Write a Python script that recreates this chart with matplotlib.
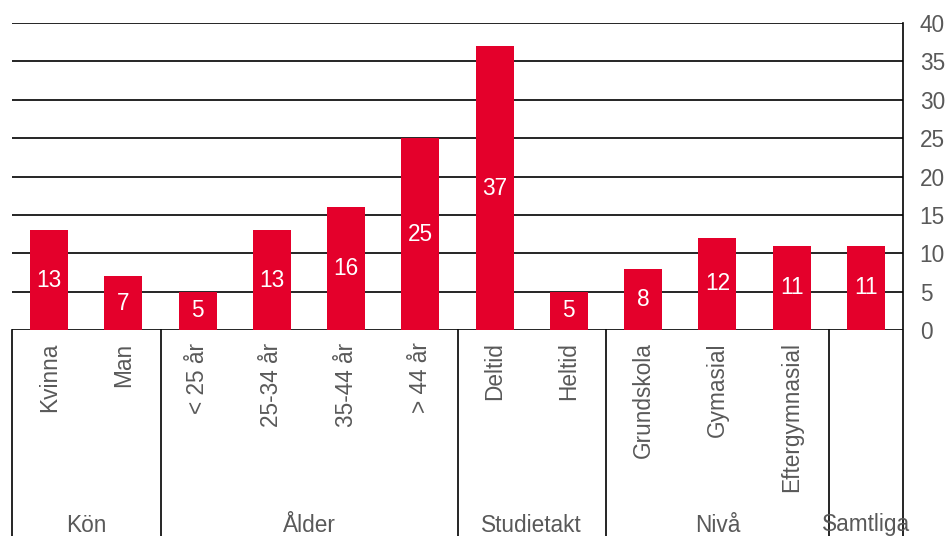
import matplotlib.pyplot as plt
import matplotlib.transforms as mtransforms

# data
kategorier = ['Kvinna', 'Man', '< 25 år', '25-34 år', '35-44 år', '> 44 år',
              'Deltid', 'Heltid', 'Grundskola', 'Gymasial', 'Eftergymnasial', 'Samtliga']
varden = [13, 7, 5, 13, 16, 25, 37, 5, 8, 12, 11, 11]
grupper = ['Kön', 'Ålder', 'Studietakt', 'Nivå', 'Samtliga']
grupp_storlek = [2, 4, 2, 3, 1]
y_ticks = [0, 5, 10, 15, 20, 25, 30, 35, 40]

rod = '#E4002B'
gra = '#595959'
fs = 16.3
plt.rcParams['font.family'] = ['Liberation Sans', 'DejaVu Sans']

fig = plt.figure(figsize=(9.48, 5.36), dpi=100)
W, H = 948, 536
x0, x1, y0, y1 = 12, 903, 330, 23
ax = fig.add_axes([x0 / W, (H - y0) / H, (x1 - x0) / W, (y0 - y1) / H])

x = list(range(len(kategorier)))
ax.bar(x, varden, width=0.51, color=rod, zorder=3)
for xi, v in zip(x, varden):
    ax.text(xi, v / 2, str(v), color='white', ha='center', va='center', fontsize=fs, zorder=4)

ax.set_xlim(-0.5, len(kategorier) - 0.5)
ax.set_ylim(0, 40)
ax.set_yticks(y_ticks)
ax.yaxis.tick_right()
ax.tick_params(axis='y', length=0, pad=12, labelsize=fs, labelcolor=gra)
for t in y_ticks:
    ax.axhline(t, color='black', lw=1.2, zorder=2)

for s in ['left', 'top', 'bottom', 'right']:
    ax.spines[s].set_visible(False)

ax.set_xticks(x)
# Samtliga har ingen egen kategoritext under stapeln
ax.set_xticklabels(kategorier[:-1] + [''], rotation=90, fontsize=fs, color=gra)
ax.tick_params(axis='x', length=0, pad=9)

trans = mtransforms.blended_transform_factory(ax.transData, ax.transAxes)
bottom = -(H - y0) / (y0 - y1)
start = -0.5
for g, n in zip(grupper, grupp_storlek):
    ax.plot([start, start], [0, bottom], color='black', lw=1.2, transform=trans, clip_on=False)
    ax.text(start + n / 2, -195 / (y0 - y1), g, transform=trans, ha='center', va='center',
            fontsize=fs, color=gra)
    start += n
ax.plot([start, start], [1, bottom], color='black', lw=1.2, transform=trans, clip_on=False)

fig.savefig('out.png', dpi=100)
